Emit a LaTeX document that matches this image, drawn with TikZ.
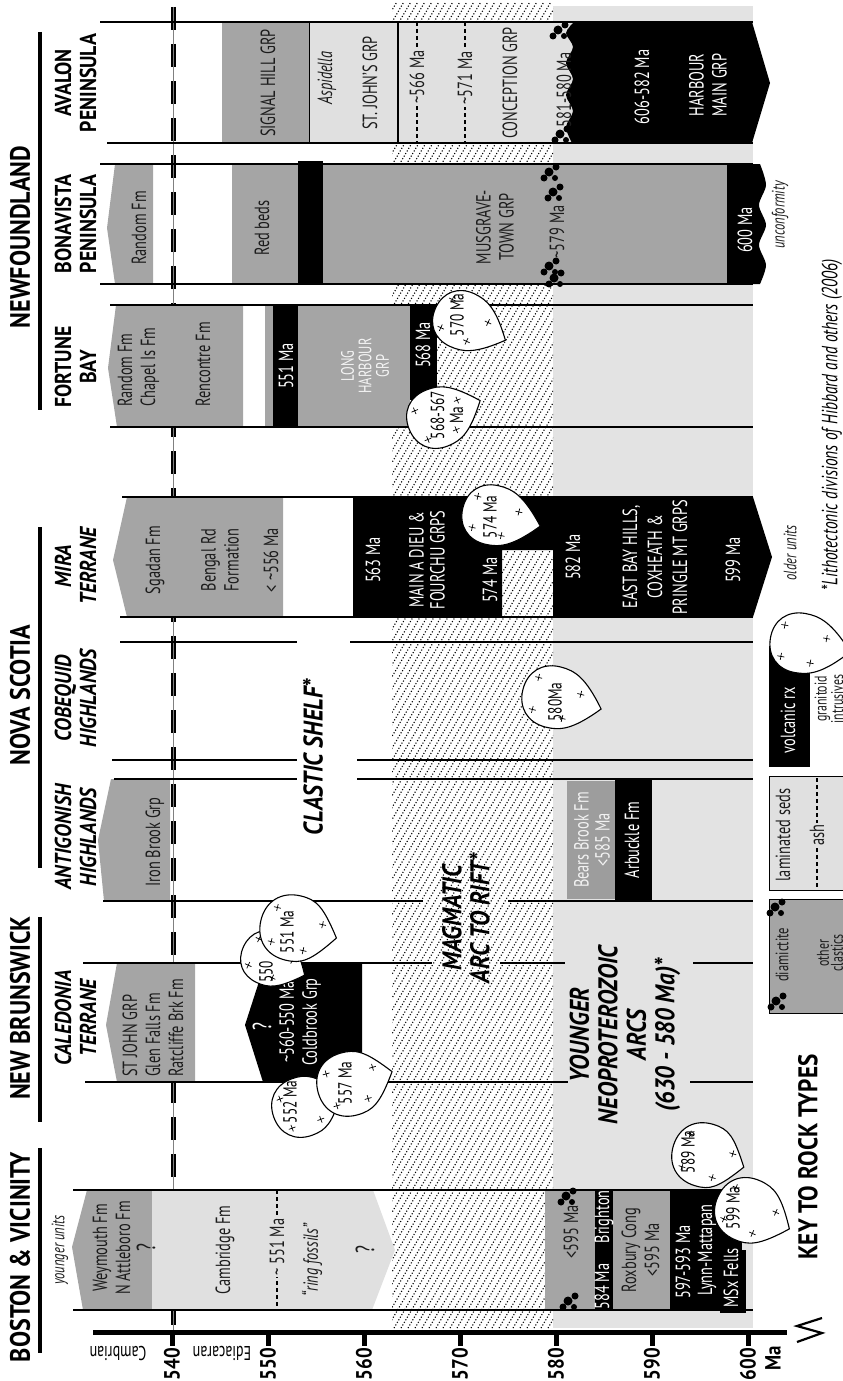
\documentclass[tikz,border=0pt]{standalone}
\usepackage{fontspec}
\setmainfont{PT Sans}
\newfontfamily\condfont[FakeStretch=0.7]{PT Sans}
\newfontfamily\headfont[FakeStretch=0.86]{PT Sans}
\usetikzlibrary{positioning}
\definecolor{cclastic}{HTML}{A5A5A5}
\definecolor{clamin}{HTML}{E0E0E0}
\definecolor{cband}{HTML}{E3E3E3}
\definecolor{cbears}{HTML}{9D9D9D}
\definecolor{cdark}{HTML}{1C1C1C}
\newcommand\unitfont{\condfont\fontsize{20.5}{23}\selectfont}
\tikzset{
  unittext/.style={rotate=90, font=\unitfont, text=cdark, align=center, inner sep=0pt},
  unitwhite/.style={unittext, text=white},
  unitit/.style={unittext, font=\unitfont\itshape},
  regionhead/.style={rotate=90, font=\headfont\bfseries\fontsize{28}{30}\selectfont, inner sep=0pt},
  subhead/.style={rotate=90, font=\headfont\bfseries\fontsize{23}{25}\selectfont, align=center, inner sep=0pt},
  subheadit/.style={subhead, font=\headfont\bfseries\itshape\fontsize{23}{25}\selectfont},
  zonetext/.style={rotate=90, font=\headfont\bfseries\itshape\fontsize{27}{28}\selectfont, align=center, inner sep=0pt},
  ticklabel/.style={rotate=90, font=\headfont\bfseries\fontsize{22}{24}\selectfont, inner sep=0pt},
  clastic/.style={fill=cclastic},
  lamin/.style={fill=clamin},
  colline/.style={line width=1.8pt},
  hatchline/.style={line width=1.1pt, dash pattern=on 1.1pt off 1.9pt},
  ashline/.style={line width=1.4pt, dash pattern=on 4pt off 3pt},
  granfill/.style={fill=white, draw=black, line width=1.1pt},
  granplus/.style={line width=0.7pt},
  blobtext/.style={rotate=90, font=\condfont\fontsize{19}{19}\selectfont, align=center, inner sep=0pt},
  pics/diamict/.style={code={
    \fill (0,0) circle[radius=4.5pt];
    \fill (7,-5) circle[radius=3.5pt];
    \fill (6,6) circle[radius=3pt];
    \fill (-5,6) circle[radius=3.5pt];
  }}
}
% granitoid blob: centre x, centre y, radius, tail angle, tail length factor
\newcommand\granblob[5]{%
  \begin{scope}[shift={(#1,#2)}, rotate=#4]
    \pgfmathsetmacro\gR{#3}
    \pgfmathsetmacro\gT{#3*#5}
    \draw[granfill] (\gT,0)
      .. controls ({0.55*\gT},{0.85*\gR}) and ({0.5*\gR},\gR) .. (0,\gR)
      .. controls ({-0.6*\gR},\gR) and (-\gR,{0.6*\gR}) .. (-\gR,0)
      .. controls (-\gR,{-0.6*\gR}) and ({-0.6*\gR},-\gR) .. (0,-\gR)
      .. controls ({0.5*\gR},-\gR) and ({0.55*\gT},{-0.85*\gR}) .. (\gT,0) -- cycle;
    \foreach \px/\py in {-0.6/-0.5,-0.55/0.55,0.45/0.6,0.85/-0.3}
      \draw[granplus] ({\px*\gR},{\py*\gR}) +(-3.5,0) -- +(3.5,0) +(0,-3.5) -- +(0,3.5);
  \end{scope}}

\begin{document}
\begin{tikzpicture}[x=1pt, y=-1pt]
\useasboundingbox (0,0) rectangle (843,1381);

% age zones
\fill[cband] (553,6) rectangle (753,1328);
\begin{scope}
  \clip (392,3) rectangle (553,1328);
  \foreach \a in {-390,-383,...,560}
    \draw[hatchline] (\a,1328) -- ++(781,-1328);
\end{scope}

% Cambrian / Ediacaran boundary
\draw[line width=5pt, dash pattern=on 23pt off 14pt] (173,7) -- (173,1332);
\draw[line width=0.6pt, gray] (173,7) -- (173,1332);

% Avalon Peninsula
\fill[clastic] (222,22) rectangle (309,143);
\fill[lamin] (309,22) rectangle (575,143);
\fill (574,22) -- (752,22) -- (770,83) -- (752,143) -- (572,143)
  -- plot[smooth] coordinates {(572,143) (566,127) (573,111) (566,95) (573,79) (566,63) (573,47) (566,33) (574,22)} -- cycle;
\draw[line width=1pt] (309,22) -- (309,143);
\draw[line width=1.2pt] (398,22) -- (398,143);
\draw[ashline] (417,22) -- (417,143);
\draw[ashline] (465,22) -- (465,143);
\pic at (558,30) {diamict};
\pic at (560,134) {diamict};

% Bonavista Peninsula
\fill[clastic] (107,228) -- (115,164) -- (153,164) -- (153,284) -- (115,284) -- cycle;
\fill[clastic] (232,164) rectangle (298,284);
\fill (298,161) rectangle (323,285);
\fill[clastic] (323,164) rectangle (728,284);
\fill (727,164) -- (760,164)
  -- plot[smooth] coordinates {(760,164) (766,185) (759,205) (766,225) (759,245) (766,265) (760,284)} -- (727,284) -- cycle;
\pic at (549,172) {diamict};
\pic at (553,192) {diamict};
\pic at (549,266) {diamict};
\pic at (554,278) {diamict};

% Fortune Bay
\fill[clastic] (108,368) -- (116,305) -- (243,305) -- (243,427) -- (117,427) -- cycle;
\fill[clastic] (265,305) rectangle (273,427);
\fill (273,305) rectangle (298,427);
\fill[clastic] (298,305) rectangle (410,427);
\fill (410,305) rectangle (437,400);

% Mira Terrane
\fill[clastic] (113,560) -- (127,497) -- (283,497) -- (283,617) -- (127,617) -- cycle;
\fill (353,497) -- (753,497) -- (772,557) -- (753,617) -- (553,617) -- (553,550)
  -- (502,550) -- (502,617) -- (353,617) -- cycle;

% Antigonish Highlands
\fill[clastic] (98,840) -- (111,779) -- (170,779) -- (170,901) -- (104,901) -- cycle;
\fill[cbears] (567,781) rectangle (615,899);
\fill (615,779) rectangle (652,901);

% Caledonia Terrane
\fill[clastic] (106,1025) -- (117,963) -- (195,963) -- (195,1082) -- (117,1082) -- cycle;
\fill (245,1025) -- (265,963) -- (362,963) -- (362,1082) -- (263,1082) -- cycle;

% Boston
\fill[clastic] (72,1247) -- (87,1190) -- (152,1190) -- (152,1310) -- (83,1310) -- cycle;
\fill[lamin] (152,1190) -- (373,1190) -- (395,1250) -- (372,1310) -- (152,1310) -- cycle;
\draw[ashline] (277,1190) -- (277,1310);
\fill[clastic] (545,1190) rectangle (595,1310);
\fill (595,1190) rectangle (613,1310);
\fill[clastic] (613,1190) rectangle (670,1310);
\fill (670,1190) rectangle (742,1310);
\fill (720,1250) rectangle (746,1313);
\pic at (566,1196) {diamict};
\pic at (568,1301) {diamict};

% column boundaries
\foreach \yy/\xa/\xb in {22/100/753, 143/107/753, 164/100/753, 284/100/753,
    305/110/753, 427/110/753, 497/122/753, 617/120/753,
    642/120/297, 642/350/753, 760/112/297, 760/357/753, 779/114/297, 779/357/753,
    901/103/423, 901/508/753, 963/83/432, 963/500/565, 963/693/753,
    1082/85/568, 1082/690/753, 1190/73/753, 1310/73/753}
  \draw[colline] (\xa,\yy) -- (\xb,\yy);

% region headings
\draw[line width=4.5pt] (40,32) -- (40,410);
\draw[line width=4.5pt] (40,527) -- (40,868);
\draw[line width=4.5pt] (40,917) -- (40,1122);
\draw[line width=4.5pt] (40,1148) -- (40,1353);
\node[regionhead] (nfld) at (20,237) {NEWFOUNDLAND};
\node[regionhead] (nova) at (20,695) {NOVA SCOTIA};
\node[regionhead] (nbruns) at (20,1008) {NEW BRUNSWICK};
\node[regionhead] (boston) at (20,1257) {BOSTON \& VICINITY};
\node[subhead] (avalon) at (75.5,83) {AVALON\\PENINSULA};
\node[subhead] (bonav) at (75.5,224) {BONAVISTA\\PENINSULA};
\node[subhead] (fortune) at (75.5,367) {FORTUNE\\BAY};
\node[subheadit] (mira) at (75.5,566) {MIRA\\TERRANE};
\node[subheadit] (cobeq) at (75.5,698) {COBEQUID\\HIGHLANDS};
\node[subheadit] (antig) at (75.5,837) {ANTIGONISH\\HIGHLANDS};
\node[subheadit] (caled) at (75.5,1018) {CALEDONIA\\TERRANE};

% Avalon labels
\node[unittext] (signal) at (268,83) {SIGNAL HILL GRP};
\node[unitit] (aspid) at (327,78) {Aspidella};
\node[unittext] (stjohns) at (370,83) {ST. JOHN’S GRP};
\node[unittext, fill=clamin, inner sep=2pt] (ash566) at (417,77) {\textasciitilde566 Ma};
\node[unittext, fill=clamin, inner sep=2pt] (ash571) at (465,78) {\textasciitilde571 Ma};
\node[unittext] (concep) at (510,83) {CONCEPTION GRP};
\node[unittext] (dia581) at (564,90) {581-580 Ma};
\node[unitwhite] (hm606) at (642,87) {606-582 Ma};
\node[unitwhite] (harbmain) at (708,85) {HARBOUR\\MAIN GRP};

% Bonavista labels
\node[unittext] (randomb) at (139,228) {Random Fm};
\node[unittext] (redbeds) at (262,228) {Red beds};
\node[unittext] (musgr) at (495,227) {MUSGRAVE-\\TOWN GRP};
\node[unittext] (dia579) at (557,232) {\textasciitilde579 Ma};
\node[unitwhite] (bon600) at (745,230) {600 Ma};
\node[unitit, font=\condfont\itshape\fontsize{18}{18}\selectfont] (unconf) at (780,215) {unconformity};

% Fortune Bay labels
\node[unittext, anchor=west, align=left] (randomf) at (138.5,407) {Random Fm\\Chapel Is Fm};
\node[unittext, anchor=west] (rencon) at (203,407) {Rencontre Fm};
\node[unitwhite] (fb551) at (286,366) {551 Ma};
\node[unitwhite, text=white!92!gray, font=\condfont\fontsize{18}{17.5}\selectfont] (longh) at (365,366) {LONG\\HARBOUR\\GRP};
\node[unitwhite] (fb568) at (423,345) {568 Ma};

% Mira labels
\node[unittext] (sgadan) at (155,560) {Sgadan Fm};
\node[unittext] (bengal) at (220,560) {Bengal Rd\\Formation};
\node[unittext] (mi556) at (271,560) {< \textasciitilde556 Ma};
\node[unitwhite] (mi563) at (373,560) {563 Ma};
\node[unitwhite, font=\condfont\fontsize{20.5}{21}\selectfont] (maindieu) at (427,560) {MAIN A DIEU \&\\FOURCHU GRPS};
\node[unitwhite] (mi574) at (490,580) {574 Ma};
\node[unitwhite] (mi582) at (573,557) {582 Ma};
\node[unitwhite, font=\condfont\fontsize{20.5}{25}\selectfont] (eastbay) at (655,557) {EAST BAY HILLS,\\COXHEATH \&\\PRINGLE MT GRPS};
\node[unitwhite] (mi599) at (733,560) {599 Ma};
\node[unitit, font=\condfont\itshape\fontsize{18}{18}\selectfont] (older) at (790,553) {older units};

% Antigonish labels
\node[unittext] (ironbr) at (155,842) {Iron Brook Grp};
\node[unitwhite, text=white!90!gray, font=\condfont\fontsize{20.5}{21}\selectfont] (bears) at (592,840) {Bears Brook Fm\\<585 Ma};
\node[unitwhite] (arbuck) at (632,840) {Arbuckle Fm};

% Caledonia labels
\node[unittext, anchor=west, align=left] (stjohn) at (153,1077) {ST JOHN GRP\\Glen Falls Fm\\Ratcliffe Brk Fm};
\node[unitwhite, font=\condfont\fontsize{26}{26}\selectfont] (qcold) at (262,1027) {?};
\node[unitwhite] (coldbr) at (300,1022) {\textasciitilde560-550 Ma\\Coldbrook Grp};

% Boston labels
\node[unitit, font=\condfont\itshape\fontsize{18}{18}\selectfont] (youngu) at (60,1250) {younger units};
\node[unittext] (weym) at (111.5,1248) {Weymouth Fm\\N Attleboro Fm};
\node[unittext, font=\condfont\fontsize{26}{26}\selectfont] (qweym) at (146,1248) {?};
\node[unittext] (cambr) at (225,1250) {Cambridge Fm};
\node[unittext, fill=clamin, inner sep=2pt] (ash551) at (277,1247) {\textasciitilde\ 551 Ma};
\node[unitit] (ring) at (312,1260) {“ring fossils”};
\node[unittext, font=\condfont\fontsize{26}{26}\selectfont] (qcamb) at (365,1250) {?};
\node[unittext] (bo595) at (571,1232) {<595 Ma};
\node[unitwhite] (bright) at (604,1250) {584 Ma\quad Brighton};
\node[unittext] (roxb) at (640.5,1250) {Roxbury Cong\\<595 Ma};
\node[unitwhite] (lynn597) at (683,1262) {597-593 Ma};
\node[unitwhite] (lynn) at (707,1250) {Lynn-Mattapan};
\node[unitwhite, anchor=west] (msx) at (731,1308) {MSx Fells};

% zone names
\node[zonetext] (shelf) at (313,757) {CLASTIC SHELF*};
\node[zonetext] (magarc) at (466,918) {MAGMATIC\\ARC TO RIFT*};
\node[zonetext, font=\headfont\bfseries\itshape\fontsize{27}{28.5}\selectfont] (younger) at (625,1035) {YOUNGER\\NEOPROTEROZOIC\\ARCS\\(630 - 580 Ma)*};

% granitoid intrusives
\granblob{462}{320}{29}{-25}{1.65}
\granblob{437}{418}{30}{22}{1.55}
\granblob{492}{515}{30}{-13}{1.65}
\granblob{553}{697}{31}{-14}{1.6}
\granblob{268}{958}{27}{-25}{1.5}
\granblob{293}{928}{33}{-13}{1.35}
\granblob{302}{1107}{30}{20}{1.4}
\granblob{349}{1084}{32}{16}{1.4}
\granblob{704}{1155}{32}{-17}{1.3}
\granblob{747}{1210}{32}{-24}{1.45}
\node[blobtext] (b570) at (457,315) {570 Ma};
\node[blobtext] (b568) at (447,415) {568-567\\Ma};
\node[blobtext] (b574) at (490,517) {574 Ma};
\node[blobtext] (b580) at (555,702) {580Ma};
\node[blobtext] (b550) at (266,972) {550};
\node[blobtext] (b551) at (287,932) {551 Ma};
\node[blobtext] (b552) at (290,1102) {552 Ma};
\node[blobtext] (b557) at (345,1083) {557 Ma};
\node[blobtext] (b589) at (688,1152) {589 Ma};
\node[blobtext] (b599) at (733,1208) {599 Ma};

% time axis
\draw[line width=5pt] (93,1332) -- (787,1332);
\foreach \a in {540,550,...,600} {
  \draw[line width=5pt] ({172+(\a-540)*9.6},1332) -- ++(0,14);
  \node[ticklabel] (tick\a) at ({172+(\a-540)*9.6},1364) {\a};
}
\node[ticklabel] (maunit) at (773,1358) {Ma};
\node[rotate=180, font=\condfont\fontsize{20}{20}\selectfont, inner sep=0pt] (cambrian) at (118,1353) {Cambrian};
\node[rotate=180, font=\condfont\fontsize{20}{20}\selectfont, inner sep=0pt] (ediac) at (222,1353) {Ediacaran};
\draw[line width=2.2pt] (822,1318) -- (797,1326) -- (822,1333) -- (797,1342);

% key to rock types
\fill (769,646) rectangle (810,767);
\filldraw[lamin, draw=black, line width=1pt] (769,776) rectangle (850,890);
\filldraw[clastic, draw=black, line width=1pt] (769,899) rectangle (850,1013);
\draw[ashline] (817,778) -- (817,888);
\pic at (775,907) {diamict};
\pic at (776,1001) {diamict};
\granblob{800}{643}{30}{-10}{1.7}
\node[unitwhite] (volc) at (788,720) {volcanic rx};
\node[unittext, font=\condfont\fontsize{17}{14}\selectfont] (granit) at (829,699) {granitoid\\intrusives};
\node[unittext] (laminsed) at (783,835) {laminated seds};
\node[unittext, fill=clamin, inner sep=2pt] (ashkey) at (817,835) {ash};
\node[unittext, font=\condfont\fontsize{18}{18}\selectfont] (diamkey) at (782,955) {diamictite};
\node[unittext, font=\condfont\fontsize{17}{14}\selectfont] (otherkey) at (830,953) {other\\clastics};
\node[rotate=90, font=\headfont\bfseries\fontsize{27}{29}\selectfont, inner sep=0pt] (keytitle) at (808,1157) {KEY TO ROCK TYPES};
\node[rotate=90, font=\condfont\itshape\fontsize{22}{22}\selectfont, inner sep=0pt] (footnote) at (832,425) {*Lithotectonic divisions of Hibbard and others (2006)};
\end{tikzpicture}
\end{document}
